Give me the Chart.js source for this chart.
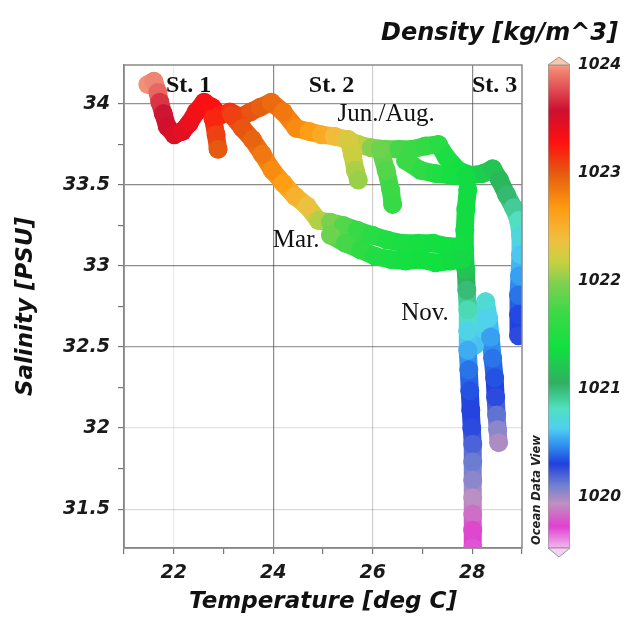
<!DOCTYPE html>
<html>
<head>
<meta charset="utf-8">
<script src="https://cdn.jsdelivr.net/npm/chart.js@4.4.1/dist/chart.umd.min.js"></script>
<style>
  html, body { margin: 0; padding: 0; background: #fff; }
  #wrap { position: relative; width: 626px; height: 618px; }
  #wrap canvas { position: absolute; left: 0; top: 0; }
</style>
</head>
<body>
<div id="wrap">
  <canvas id="ts" width="626" height="618"></canvas>
  <canvas id="cbar" width="626" height="618"></canvas>
</div>
<script>
// T-S tracks: temperature [deg C], salinity [PSU], density [kg/m^3]
const upperT = [21.48, 21.60, 21.68, 21.72, 21.79, 21.87, 22.01, 22.17, 22.31, 22.45, 22.61, 22.77, 22.93, 23.13, 23.34, 23.54, 23.74, 23.96, 24.20, 24.46, 24.72, 24.97, 25.23, 25.47, 25.71, 25.97, 26.25, 26.52, 26.80, 27.06, 27.32, 27.48, 27.72, 27.97, 28.21, 28.41, 28.55, 28.69, 28.83, 28.93, 28.97, 28.97, 28.95, 28.93, 28.93, 28.93];
const upperS = [34.12, 34.14, 34.07, 34.01, 33.94, 33.86, 33.81, 33.83, 33.88, 33.95, 34.01, 33.98, 33.93, 33.95, 33.92, 33.95, 33.98, 34.01, 33.95, 33.85, 33.83, 33.81, 33.80, 33.78, 33.75, 33.73, 33.72, 33.72, 33.72, 33.74, 33.75, 33.67, 33.59, 33.56, 33.57, 33.60, 33.53, 33.44, 33.36, 33.28, 33.19, 33.07, 32.94, 32.82, 32.70, 32.57];
const upperD = [1023.97, 1023.95, 1023.86, 1023.70, 1023.60, 1023.55, 1023.50, 1023.45, 1023.40, 1023.35, 1023.32, 1023.28, 1023.22, 1023.15, 1023.08, 1023.02, 1022.97, 1022.92, 1022.85, 1022.75, 1022.65, 1022.55, 1022.42, 1022.30, 1022.15, 1022.00, 1021.85, 1021.75, 1021.70, 1021.62, 1021.55, 1021.45, 1021.38, 1021.30, 1021.25, 1021.20, 1021.12, 1021.02, 1020.92, 1020.82, 1020.72, 1020.62, 1020.52, 1020.42, 1020.33, 1020.28];

const greenT = [26.66, 26.96, 27.26, 27.56, 27.87];
const greenS = [33.65, 33.59, 33.57, 33.56, 33.55];
const greenD = [1021.70, 1021.60, 1021.50, 1021.42, 1021.35];

const spur0T = [22.79, 22.85, 22.89];
const spur0S = [33.91, 33.81, 33.72];
const spur0D = [1023.20, 1023.10, 1023.00];

const spurAT = [25.51, 25.59, 25.65, 25.71];
const spurAS = [33.78, 33.69, 33.59, 33.53];
const spurAD = [1022.25, 1022.20, 1022.10, 1022.05];

const spurBT = [26.15, 26.27, 26.36, 26.40];
const spurBS = [33.72, 33.59, 33.47, 33.38];
const spurBD = [1021.90, 1021.80, 1021.70, 1021.65];

const marT = [23.17, 23.38, 23.58, 23.78, 23.98, 24.20, 24.44, 24.68, 24.91, 25.15, 25.41, 25.69, 25.99, 26.29, 26.60, 26.92, 27.22, 27.52, 27.76];
const marS = [33.93, 33.85, 33.78, 33.69, 33.59, 33.51, 33.43, 33.37, 33.28, 33.27, 33.25, 33.22, 33.19, 33.16, 33.14, 33.14, 33.14, 33.12, 33.12];
const marD = [1023.10, 1023.02, 1022.95, 1022.85, 1022.75, 1022.65, 1022.50, 1022.35, 1022.12, 1021.95, 1021.80, 1021.65, 1021.55, 1021.48, 1021.45, 1021.42, 1021.40, 1021.38, 1021.36];

const marLowT = [25.15, 25.45, 25.75, 26.05, 26.36, 26.66, 26.96, 27.26, 27.56, 27.80];
const marLowS = [33.19, 33.14, 33.10, 33.06, 33.04, 33.03, 33.04, 33.02, 33.03, 33.04];
const marLowD = [1021.90, 1021.75, 1021.60, 1021.50, 1021.45, 1021.42, 1021.40, 1021.38, 1021.35, 1021.32];

const novT = [27.91, 27.87, 27.85, 27.85, 27.87, 27.89, 27.91, 27.91, 27.91, 27.93, 27.95, 27.97, 27.99, 28.01, 28.01, 28.01, 28.01, 28.01, 28.01, 28.01];
const novS = [33.47, 33.35, 33.22, 33.10, 32.98, 32.85, 32.73, 32.60, 32.48, 32.36, 32.23, 32.11, 32.00, 31.90, 31.79, 31.68, 31.57, 31.47, 31.37, 31.26];
const novD = [1021.35, 1021.35, 1021.35, 1021.32, 1021.20, 1021.00, 1020.85, 1020.68, 1020.55, 1020.42, 1020.35, 1020.30, 1020.28, 1020.20, 1020.12, 1020.05, 1019.95, 1019.85, 1019.75, 1019.70];

const nov2T = [28.05, 28.17, 28.27, 28.33, 28.37, 28.41, 28.45, 28.47, 28.49, 28.51, 28.53];
const nov2S = [32.51, 32.65, 32.78, 32.68, 32.56, 32.43, 32.31, 32.19, 32.08, 31.99, 31.91];
const nov2D = [1020.60, 1020.68, 1020.75, 1020.65, 1020.52, 1020.42, 1020.35, 1020.28, 1020.15, 1020.05, 1019.98];

// axes
const xTickVals = [21, 22, 23, 24, 25, 26, 27, 28, 29];
const xLabelVals = [22, 24, 26, 28];
const yTickVals = [31.5, 31.75, 32, 32.25, 32.5, 32.75, 33, 33.25, 33.5, 33.75, 34];
const yLabelVals = [31.5, 32, 32.5, 33, 33.5, 34];
const cbTicks = [1020, 1021, 1022, 1023, 1024];
const cbMin = 1019.53, cbMax = 1024;

// in-plot annotations (data coordinates, text baseline)
const notes = [
  { text: 'St. 1', t: 22.30, s: 34.074, bold: true },
  { text: 'St. 2', t: 25.17, s: 34.074, bold: true },
  { text: 'St. 3', t: 28.45, s: 34.074, bold: true },
  { text: 'Jun./Aug.', t: 26.27, s: 33.895, bold: false },
  { text: 'Mar.', t: 24.46, s: 33.117, bold: false },
  { text: 'Nov.', t: 27.05, s: 32.667, bold: false }
];

// ODV-like colour map (density -> colour)
const CMAP = [
  [1019.53, '#f0b8f0'], [1019.73, '#e040d0'], [1019.94, '#c090c0'], [1020.11, '#7080d0'],
  [1020.31, '#2040e0'], [1020.48, '#3090f0'], [1020.64, '#50d0f0'], [1020.82, '#50e0c0'],
  [1021.06, '#30b060'], [1021.38, '#10e040'], [1021.73, '#40d848'], [1021.98, '#80d050'],
  [1022.18, '#c8d040'], [1022.38, '#f0c040'], [1022.68, '#ff9a10'], [1023.00, '#e55a10'],
  [1023.28, '#ff1010'], [1023.58, '#cc1030'], [1023.94, '#f08070'], [1024.00, '#f4a080']
];

function hexRgb(h) {
  const n = parseInt(h.slice(1), 16);
  return [(n >> 16) & 255, (n >> 8) & 255, n & 255];
}

function colorAt(v) {
  if (v <= CMAP[0][0]) return CMAP[0][1];
  for (let i = 1; i < CMAP.length; i++) {
    if (v <= CMAP[i][0]) {
      const f = (v - CMAP[i - 1][0]) / (CMAP[i][0] - CMAP[i - 1][0]);
      const a = hexRgb(CMAP[i - 1][1]), b = hexRgb(CMAP[i][1]);
      return 'rgb(' + a.map((c, k) => Math.round(c + (b[k] - c) * f)).join(',') + ')';
    }
  }
  return CMAP[CMAP.length - 1][1];
}

const tracks = [
  [marLowT, marLowS, marLowD],
  [marT, marS, marD],
  [novT, novS, novD],
  [nov2T, nov2S, nov2D],
  [spur0T, spur0S, spur0D],
  [spurAT, spurAS, spurAD],
  [spurBT, spurBS, spurBD],
  [greenT, greenS, greenD],
  [upperT, upperS, upperD]
];

const tickFont = { family: 'DejaVu Sans', size: 19, weight: 'bold', style: 'italic' };
const titleFont = { family: 'DejaVu Sans', size: 23, weight: 'bold', style: 'italic' };

const xGridAlpha = { 22: 0.1, 24: 0.6, 26: 0.25, 28: 0.6 };
const yGridAlpha = { 31.5: 0.2, 32: 0.15, 32.5: 0.5, 33: 0.6, 33.5: 0.6, 34: 0.55 };

function gridCol(map) {
  return c => {
    if (!c.tick || !(c.tick.value in map)) return 'rgba(0,0,0,0)';
    return 'rgba(60,60,60,' + map[c.tick.value] + ')';
  };
}

const framePlugin = {
  id: 'frame',
  afterDraw(chart) {
    const { ctx, chartArea: a, scales } = chart;
    ctx.save();
    ctx.strokeStyle = '#8a8a8a';
    ctx.lineWidth = 1.5;
    ctx.strokeRect(a.left, a.top, a.right - a.left, a.bottom - a.top);
    ctx.fillStyle = '#111';
    ctx.textAlign = 'center';
    ctx.textBaseline = 'alphabetic';
    for (const n of notes) {
      ctx.font = (n.bold ? 'bold 24px' : '25px') + ' "Liberation Serif"';
      ctx.fillText(n.text, scales.x.getPixelForValue(n.t), scales.y.getPixelForValue(n.s));
    }
    ctx.restore();
  }
};

new Chart(document.getElementById('ts'), {
  type: 'scatter',
  data: {
    datasets: tracks.map(([t, s, d]) => ({
      data: t.map((x, i) => ({ x, y: s[i] })),
      showLine: true,
      borderWidth: 18,
      borderCapStyle: 'round',
      borderJoinStyle: 'round',
      borderColor: colorAt(d[0]),
      segment: { borderColor: c => colorAt((d[c.p0DataIndex] + d[c.p1DataIndex]) / 2) },
      pointRadius: 9.5,
      pointBorderWidth: 0,
      pointBackgroundColor: d.map(colorAt),
      clip: 0
    }))
  },
  options: {
    responsive: false,
    animation: false,
    events: [],
    layout: { padding: { left: 10, top: 65, right: 104, bottom: 0 } },
    plugins: { legend: { display: false }, tooltip: { enabled: false } },
    scales: {
      x: {
        type: 'linear', min: 21, max: 29, z: 1,
        afterBuildTicks: s => { s.ticks = xTickVals.map(v => ({ value: v })); },
        afterFit: s => { s.height = 70; },
        ticks: {
          callback: v => xLabelVals.includes(v) ? String(v) : '',
          font: tickFont, color: '#1a1a1a', padding: 8, maxRotation: 0, autoSkip: false
        },
        grid: { color: gridCol(xGridAlpha), tickColor: '#777', tickLength: 6, lineWidth: 1.2 },
        border: { color: '#808080', width: 1.5 },
        title: { display: true, text: 'Temperature [deg C]', font: titleFont, color: '#111', padding: { top: 0, bottom: 2 } }
      },
      y: {
        type: 'linear', min: 31.26, max: 34.24, z: 1,
        afterBuildTicks: s => { s.ticks = yTickVals.map(v => ({ value: v })); },
        afterFit: s => { s.width = 114; },
        ticks: {
          callback: v => yLabelVals.includes(v) ? String(v) : '',
          font: tickFont, color: '#1a1a1a', padding: 8, autoSkip: false
        },
        grid: { color: gridCol(yGridAlpha), tickColor: '#777', tickLength: 6, lineWidth: 1.2 },
        border: { color: '#808080', width: 1.5 },
        title: { display: true, text: 'Salinity [PSU]', font: titleFont, color: '#111', padding: { top: 2, bottom: 0 } }
      }
    }
  },
  plugins: [framePlugin]
});

// colour bar
const cbDeco = {
  id: 'cbDeco',
  afterDatasetsDraw(chart) {
    const { ctx, chartArea: a } = chart;
    const mid = (a.left + a.right) / 2;
    ctx.save();
    ctx.lineWidth = 1;
    ctx.strokeStyle = '#999';
    ctx.beginPath();
    ctx.moveTo(a.left, a.top); ctx.lineTo(mid, a.top - 8); ctx.lineTo(a.right, a.top);
    ctx.closePath();
    ctx.fillStyle = '#f8c8a8';
    ctx.fill(); ctx.stroke();
    ctx.beginPath();
    ctx.moveTo(a.left, a.bottom); ctx.lineTo(mid, a.bottom + 9); ctx.lineTo(a.right, a.bottom);
    ctx.closePath();
    ctx.fillStyle = '#f4d0f4';
    ctx.fill(); ctx.stroke();

    ctx.fillStyle = '#111';
    ctx.font = 'bold italic 24px "DejaVu Sans"';
    ctx.textAlign = 'right';
    ctx.textBaseline = 'middle';
    ctx.fillText('Density [kg/m^3]', a.right + 48, a.top - 31);

    ctx.translate(a.left - 11, a.bottom - 58);
    ctx.rotate(-Math.PI / 2);
    ctx.font = 'bold italic 11.5px "DejaVu Sans"';
    ctx.textAlign = 'center';
    ctx.fillStyle = '#222';
    ctx.fillText('Ocean Data View', 0, 0);
    ctx.restore();
  }
};

new Chart(document.getElementById('cbar'), {
  type: 'bar',
  data: {
    labels: ['density'],
    datasets: [{
      data: [[cbMin, cbMax]],
      backgroundColor: c => {
        const chart = c.chart;
        if (!chart.chartArea) return '#ccc';
        const y = chart.scales.y;
        const g = chart.ctx.createLinearGradient(0, y.getPixelForValue(cbMin), 0, y.getPixelForValue(cbMax));
        CMAP.forEach(([v, col]) => g.addColorStop((v - cbMin) / (cbMax - cbMin), col));
        return g;
      },
      borderColor: '#999',
      borderWidth: 1,
      borderSkipped: false,
      barPercentage: 1,
      categoryPercentage: 1
    }]
  },
  options: {
    responsive: false,
    animation: false,
    events: [],
    layout: { padding: { left: 548, top: 65, right: 0, bottom: 70 } },
    plugins: { legend: { display: false }, tooltip: { enabled: false } },
    scales: {
      x: { display: false },
      y: {
        position: 'right', min: cbMin, max: cbMax,
        afterBuildTicks: s => { s.ticks = cbTicks.map(v => ({ value: v })); },
        afterFit: s => { s.width = 56; },
        grid: { display: false, drawTicks: false },
        border: { display: false },
        ticks: {
          callback: v => String(v),
          font: { family: 'DejaVu Sans', size: 15.5, weight: 'bold', style: 'italic' }, color: '#1a1a1a', padding: 8
        }
      }
    }
  },
  plugins: [cbDeco]
});
</script>
</body>
</html>
